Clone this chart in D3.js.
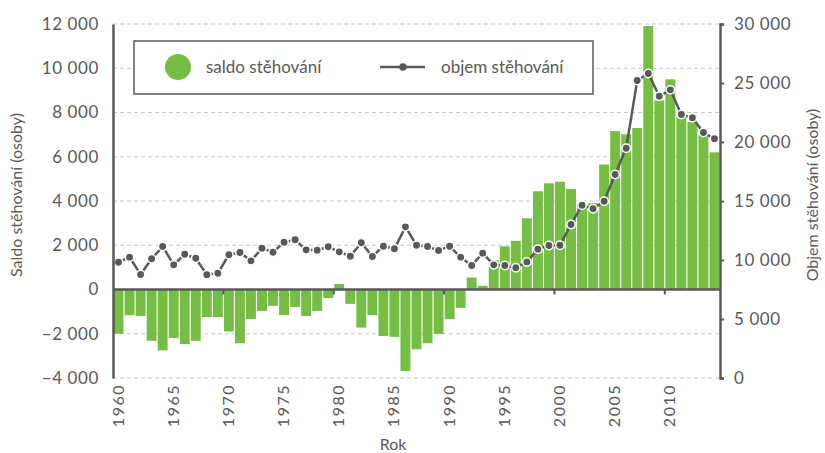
<!DOCTYPE html>
<html>
<head>
<meta charset="utf-8">
<script src="https://cdn.jsdelivr.net/npm/d3@7"></script>
<style>
  body { margin: 0; background: #fff; }
  text { font-family: Lato, "Open Sans", sans-serif; fill: #595959; }
</style>
</head>
<body>
<div id="chart"></div>
<script>
// roky 1960-2014
const years = d3.range(1960, 2015);

// saldo stěhování (levá osa)
const saldo = [
  -2000, -1160, -1200, -2320, -2750, -2190, -2470, -2320, -1250, -1250,
  -1900, -2430, -1340, -970, -740, -1160, -790, -1200, -970, -390,
  250, -650, -1720, -1160, -2100, -2140, -3680, -2700, -2430, -2010,
  -1340, -830, 540, 170, 1330, 1950, 2200, 3220, 4440, 4800,
  4870, 4540, 3900, 3900, 5650, 7160, 7010, 7300, 11910, 8550,
  9500, 7900, 7570, 7000, 6200
];

// objem stěhování (pravá osa)
const objem = [
  9810, 10240, 8770, 10100, 11140, 9590, 10490, 10150, 8750, 8880,
  10440, 10640, 9930, 11000, 10660, 11510, 11710, 10860, 10830, 11120,
  10690, 10320, 11460, 10300, 11170, 10950, 12810, 11250, 11140, 10810,
  11170, 10240, 9530, 10580, 9590, 9530, 9340, 9840, 10920, 11230,
  11250, 13010, 14640, 14340, 14980, 17250, 19470, 25210, 25800, 23880,
  24420, 22330, 22050, 20800, 20270
];

const leftTicks = [-4000, -2000, 0, 2000, 4000, 6000, 8000, 10000, 12000];
const rightTicks = [0, 5000, 10000, 15000, 20000, 25000, 30000];
const yearLabels = [1960, 1965, 1970, 1975, 1980, 1985, 1990, 1995, 2000, 2005, 2010];
const yearTicks = [1970, 1980, 1990, 2000, 2010];

const W = 825, H = 453;
const plot = { left: 113, right: 720, top: 24, bottom: 378 };
const green = "#76bd43", grey = "#595959";
const fmt = v => d3.format(",")(v).replace(/,/g, " ").replace("-", "\u2212");

const svg = d3.select("#chart").append("svg").attr("width", W).attr("height", H);

const x = d3.scaleBand().domain(years).range([plot.left, plot.right]).paddingInner(0.1).paddingOuter(0.05);
const yL = d3.scaleLinear().domain([-4000, 12000]).range([plot.bottom, plot.top]);
const yR = d3.scaleLinear().domain([0, 30000]).range([plot.bottom, plot.top]);

// mřížka
svg.append("g").selectAll("line")
  .data(leftTicks.filter(d => d !== 0))
  .join("line")
  .attr("x1", plot.left).attr("x2", plot.right)
  .attr("y1", d => yL(d)).attr("y2", d => yL(d))
  .attr("stroke", "#c9c9c9").attr("stroke-width", 1).attr("stroke-dasharray", "4,3");

// legenda (box přes mřížku)
const leg = svg.append("g");
leg.append("rect").attr("x", 134).attr("y", 41).attr("width", 459).attr("height", 53)
  .attr("fill", "#fff").attr("stroke", grey).attr("stroke-width", 1.5);
leg.append("circle").attr("cx", 178).attr("cy", 67).attr("r", 13).attr("fill", green);
leg.append("text").attr("x", 206).attr("y", 73).attr("font-size", 17).text("saldo stěhování");
leg.append("line").attr("x1", 380).attr("x2", 425).attr("y1", 67).attr("y2", 67)
  .attr("stroke", grey).attr("stroke-width", 2.5);
leg.append("circle").attr("cx", 403).attr("cy", 67).attr("r", 3.8).attr("fill", grey);
leg.append("text").attr("x", 441).attr("y", 73).attr("font-size", 17).text("objem stěhování");

// sloupce
svg.append("g").selectAll("rect")
  .data(years)
  .join("rect")
  .attr("x", d => x(d))
  .attr("width", x.bandwidth())
  .attr("y", (d, i) => Math.min(yL(saldo[i]), yL(0)))
  .attr("height", (d, i) => Math.abs(yL(saldo[i]) - yL(0)))
  .attr("fill", green);

// nulová osa + značky let
svg.append("line").attr("x1", plot.left).attr("x2", plot.right)
  .attr("y1", yL(0)).attr("y2", yL(0)).attr("stroke", grey).attr("stroke-width", 2.5);
svg.append("g").selectAll("line")
  .data(yearTicks)
  .join("line")
  .attr("x1", d => x(d) - x.step() * x.paddingInner() / 2)
  .attr("x2", d => x(d) - x.step() * x.paddingInner() / 2)
  .attr("y1", yL(0)).attr("y2", yL(0) + 5)
  .attr("stroke", grey).attr("stroke-width", 2);

// čára objemu
const line = d3.line()
  .x((d, i) => x(years[i]) + x.bandwidth() / 2)
  .y(d => yR(d));
svg.append("path").datum(objem).attr("d", line)
  .attr("fill", "none").attr("stroke", grey).attr("stroke-width", 2.5);
svg.append("g").selectAll("circle")
  .data(objem)
  .join("circle")
  .attr("cx", (d, i) => x(years[i]) + x.bandwidth() / 2)
  .attr("cy", d => yR(d))
  .attr("r", 4.2)
  .attr("fill", grey).attr("stroke", "#fff").attr("stroke-width", 1.5);

// levá osa
const axL = svg.append("g").attr("transform", `translate(${plot.left},0)`)
  .call(d3.axisLeft(yL).tickValues(leftTicks).tickSize(0).tickPadding(14).tickFormat(fmt));
axL.select(".domain").attr("stroke", grey).attr("stroke-width", 2.5);
axL.selectAll("text").attr("font-size", 17).attr("fill", grey).style("font-family", "Lato, sans-serif").attr("letter-spacing", 0.6);

// pravá osa
const axR = svg.append("g").attr("transform", `translate(${plot.right},0)`)
  .call(d3.axisRight(yR).tickValues(rightTicks).tickSize(4).tickPadding(10).tickFormat(fmt));
axR.select(".domain").attr("stroke", grey).attr("stroke-width", 2.5);
axR.selectAll(".tick line").attr("stroke", grey).attr("stroke-width", 2);
axR.selectAll("text").attr("font-size", 17).attr("fill", grey).style("font-family", "Lato, sans-serif").attr("letter-spacing", 0.6);

// popisky let
svg.append("g").selectAll("text")
  .data(yearLabels)
  .join("text")
  .attr("transform", d => `translate(${x(d) + x.bandwidth() / 2 + 5},384) rotate(-90)`)
  .attr("text-anchor", "end")
  .attr("font-size", 16)
  .attr("letter-spacing", 1.5)
  .text(d => d);

// názvy os
svg.append("text").attr("transform", "translate(22,195) rotate(-90)")
  .attr("text-anchor", "middle").attr("font-size", 16).text("Saldo stěhování (osoby)");
svg.append("text").attr("transform", "translate(818,195) rotate(-90)")
  .attr("text-anchor", "middle").attr("font-size", 16).text("Objem stěhování (osoby)");
svg.append("text").attr("x", 393).attr("y", 450)
  .attr("text-anchor", "middle").attr("font-size", 16).text("Rok");
</script>
</body>
</html>
